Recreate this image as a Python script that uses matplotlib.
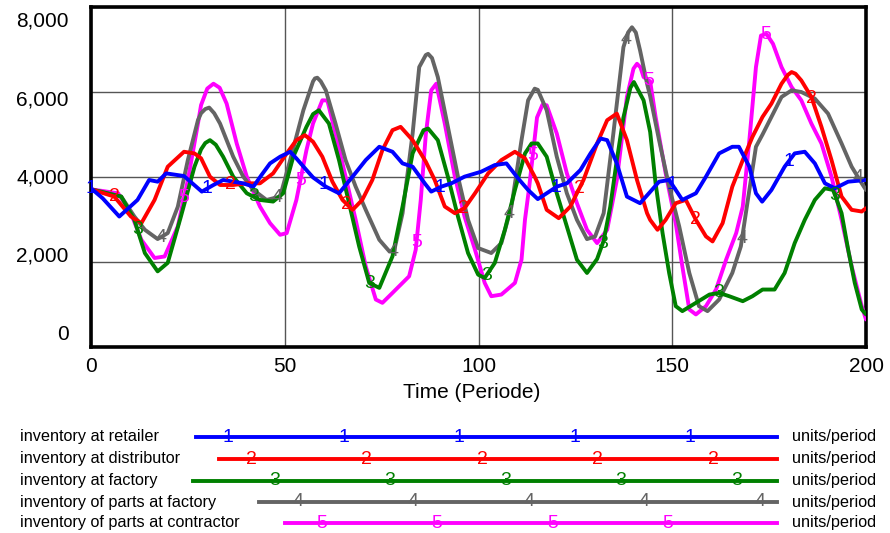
import numpy as np
import matplotlib
matplotlib.use("Agg")
import matplotlib.pyplot as plt
import matplotlib.transforms as mtransforms
from matplotlib.lines import Line2D

plt.rcParams['font.family'] = ['Liberation Sans', 'DejaVu Sans']

# ---- data ---------------------------------------------------------------
t_retailer = [0, 3, 7.3, 12, 15, 17.2, 19.4, 24, 28.6, 31.6, 34.1, 36.7, 39.3, 41.9, 44, 46.2,
              48.8, 51.4, 53, 55.6, 57.3, 60.6, 64, 67.5, 70.9, 74.4, 77.8, 80.4, 83, 86.3,
              87.8, 90.4, 93, 96.4, 100.7, 104.2, 107.2, 110.2, 112.8, 115.3, 117.6, 120.2,
              122.8, 126.3, 128.9, 131.5, 133.2, 135.7, 138.3, 141.7, 144.3, 146.6, 149.2,
              152.6, 156.1, 158.7, 162.1, 165.5, 167.2, 169.9, 171.6, 173.2, 175.6, 179,
              181.6, 184.2, 186.8, 189.4, 192, 195.4, 200]
v_retailer = [3734, 3500, 3070, 3460, 3930, 3890, 4085, 4023, 3656, 3812, 3930, 3890, 3851, 3773,
              4047, 4320, 4477, 4594, 4438, 4164, 3990, 3773, 3617, 4008, 4398, 4711, 4594,
              4320, 4242, 3830, 3656, 3773, 3851, 4008, 4125, 4281, 4320, 3969, 3695, 3480,
              3617, 3773, 3851, 4164, 4555, 4906, 4867, 4320, 3539, 3383, 3650, 3890, 3930,
              3461, 3617, 4008, 4555, 4711, 4711, 4242, 3617, 3420, 3695, 4242, 4555, 4594,
              4320, 3851, 3734, 3890, 3930]

t_distributor = [0, 6, 10.3, 13, 16.4, 19.8, 24, 26.7, 28.4, 30.7, 33.3, 36.7, 40.2, 43.6, 47,
                 50.5, 53, 55.2, 57.3, 59.7, 62.3, 64.9, 67.5, 70, 72.6, 75.2, 77.8, 79.9, 83,
                 86.4, 88.7, 91.3, 93.9, 96.4, 99.1, 102.5, 105.9, 109.4, 112, 114.5, 115.3,
                 117.6, 120.7, 123.7, 127.1, 130.6, 133.2, 135.7, 138.3, 140.9, 143.5, 144.3,
                 146.2, 148.3, 150.9, 153.5, 156.1, 158.7, 160.4, 163, 165.5, 168.2, 170.7,
                 173.3, 175.6, 178.2, 179.8, 180.8, 181.8, 183.3, 185.9, 188.5, 191.1, 193.7,
                 196.3, 198.9, 200]
v_distributor = [3710, 3540, 3070, 2914, 3460, 4242, 4594, 4555, 4440, 4008, 3812, 3812, 3851,
                 3851, 4086, 4555, 4867, 4984, 4830, 4477, 3890, 3461, 3227, 3461, 3930, 4633,
                 5102, 5180, 4867, 4360, 3930, 3305, 3148, 3266, 3617, 4086, 4398, 4594, 4438,
                 4008, 3851, 3227, 3031, 3305, 3930, 4789, 5336, 5492, 4867, 3930, 3148, 2990,
                 2758, 2992, 3383, 3461, 2992, 2602, 2484, 2914, 3773, 4398, 4945, 5414, 5727,
                 6195, 6400, 6469, 6430, 6273, 5883, 5180, 4398, 3539, 3227, 3188, 3266]

t_factory = [0, 7.8, 11.2, 13.9, 17.2, 19.8, 23.2, 26.7, 28.4, 29.5, 30.7, 32.2, 34.1, 36.7,
             40.2, 43.6, 47, 49.6, 52.2, 55.6, 57.3, 58.8, 61.4, 64, 66.6, 69.2, 71.8, 74.4,
             77.8, 80.4, 83, 85.8, 87, 89.5, 92.1, 94.7, 97.3, 99.9, 101.6, 104.2, 106.8,
             109.4, 112, 113.7, 115.3, 117.6, 120.2, 122.8, 125.4, 128, 130.6, 132.3, 134,
             135.7, 137.4, 139.2, 140.1, 142.6, 144.3, 145.7, 147.5, 149.2, 150.9, 152.6, 156.1,
             159.6, 162.1, 164.7, 168.2, 170.7, 173.3, 176.4, 179, 181.6, 184.2, 186.8, 189.4,
             191.5, 193.7, 195.4, 197.1, 198.9, 200]
v_factory = [3710, 3540, 2990, 2210, 1780, 1980, 3070, 4242, 4650, 4800, 4867, 4760, 4477, 4008,
             3617, 3460, 3422, 3617, 4477, 5180, 5480, 5570, 5258, 4398, 3383, 2367, 1508, 1391,
             2133, 3305, 4555, 5100, 5141, 4867, 4008, 3070, 2211, 1703, 1625, 1977, 2758, 3695,
             4555, 4789, 4789, 4477, 3617, 2836, 2055, 1742, 2070, 2500, 3300, 4400, 5400, 6100,
             6234, 5805, 5060, 3851, 2680, 1742, 961, 844, 1039, 1234, 1273, 1195, 1078, 1195,
             1352, 1352, 1742, 2445, 2992, 3461, 3734, 3695, 3148, 2289, 1508, 883, 766]

t_parts_factory = [0, 7.8, 11.2, 13.9, 17.2, 19.8, 22.4, 25, 27.6, 28.4, 29.5, 30.5, 31.8, 33.3,
                   36.7, 39.3, 41.9, 45.3, 48.8, 51.4, 54.8, 57.3, 57.8, 58.4, 59.3, 60.6, 63.1,
                   65.7, 68.3, 70.9, 74.4, 77, 78.2, 80.4, 83, 84.7, 86.4, 87, 88, 89.5, 92.1,
                   94.7, 97.3, 99.9, 103.3, 105.9, 108.5, 111.1, 112.8, 114.5, 115.3, 117.6,
                   120.2, 122.8, 125.4, 128, 130.1, 132.3, 134.8, 137.4, 138.6, 139.6, 140.6,
                   141.7, 143.5, 144.3, 146.6, 149.2, 151.8, 154.4, 156.9, 159.1, 162.1, 165.5,
                   167.7, 169.9, 171.6, 173.3, 175.6, 178.2, 180.8, 183.3, 186.8, 190.2, 193.7,
                   196.3, 198.9, 200]
v_parts_factory = [3710, 3540, 3070, 2758, 2540, 2680, 3300, 4400, 5336, 5500, 5600, 5633, 5500,
                   5258, 4477, 4008, 3695, 3460, 3540, 4400, 5570, 6250, 6320, 6336, 6250, 6039,
                   5258, 4398, 3773, 3227, 2523, 2250, 2250, 3148, 5023, 6586, 6870, 6898, 6800,
                   6352, 5180, 4008, 2992, 2328, 2211, 2445, 3305, 4867, 5805, 6078, 6050, 5570,
                   4477, 3617, 2992, 2539, 2602, 3148, 5023, 7055, 7400, 7523, 7400, 6977, 6195,
                   5900, 4867, 3773, 2836, 1742, 961, 844, 1117, 1742, 2367, 3695, 4711, 5000,
                   5414, 5883, 6039, 6000, 5844, 5492, 4789, 4242, 3851, 3695]

t_contractor = [0, 7, 10.3, 13, 16.4, 19, 22.4, 25, 27.6, 28.4, 30, 31.6, 33.2, 35, 37.6, 40.2,
                43.6, 46.2, 48.8, 50.5, 53, 55.6, 57.3, 59.7, 61, 63.1, 65.7, 68.3, 70.9, 73.5,
                75.2, 77.8, 82.1, 83.8, 85.1, 86.4, 87.8, 89.1, 91.3, 93.9, 96.4, 99.1, 101.6,
                103.3, 105.9, 109.4, 111.1, 112, 113, 114, 115.1, 116.5, 117.6, 120.2, 122.8,
                125.4, 128, 130.6, 133.2, 135.7, 138.3, 140, 140.9, 141.8, 142.6, 144.3, 145.7,
                148.3, 150.9, 152.6, 154.4, 156.1, 158.7, 161.3, 163.9, 166.5, 168.2, 169.9,
                171.6, 172.9, 174.3, 176, 178.2, 180.8, 183.3, 185.9, 188.5, 191.1, 193.7, 196.3,
                198.9, 200]
v_contractor = [3710, 3617, 3148, 2523, 2094, 2130, 2836, 3930, 5258, 5690, 6080, 6195, 6100,
                5727, 4789, 4008, 3305, 2914, 2640, 2680, 3460, 4633, 5260, 5805, 5800, 5023,
                4008, 2992, 1898, 1117, 1039, 1273, 1664, 2289, 3461, 5000, 6039, 6195, 5258,
                4008, 3070, 2289, 1508, 1195, 1234, 1508, 2055, 3000, 3700, 4500, 5400, 5700,
                5688, 5023, 4086, 3383, 2758, 2445, 2758, 3930, 5883, 6550, 6664, 6580, 6352,
                6250, 5414, 4086, 2914, 1898, 883, 766, 961, 1352, 2055, 2680, 3305, 4867, 6586,
                7328, 7367, 7133, 6586, 6117, 5805, 5258, 4789, 4008, 2992, 1898, 961, 648]

labels = ["inventory at retailer", "inventory at distributor", "inventory at factory",
          "inventory of parts at factory", "inventory of parts at contractor"]
colors = ["#0000ff", "#ff0000", "#008000", "#646464", "#ff00ff"]
units = "units/period"
x_ticks = [0, 50, 100, 150, 200]
y_ticks = [0, 2000, 4000, 6000, 8000]

series = [(t_retailer, v_retailer), (t_distributor, v_distributor), (t_factory, v_factory),
          (t_parts_factory, v_parts_factory), (t_contractor, v_contractor)]

W, H = 890, 533
fig = plt.figure(figsize=(W / 100, H / 100), dpi=100)
ax = fig.add_axes([91 / W, 1 - 347 / H, 775 / W, 340 / H])

# draw back to front so the retailer line sits on top
for i in reversed(range(5)):
    t, v = series[i]
    ax.plot(t, v, color=colors[i], lw=2.8, zorder=3 + (5 - i) * 0.1, solid_capstyle='round',
            solid_joinstyle='round')
    # Vensim style line numbers every 30 periods
    for tm in np.arange(6 * i, 201, 30):
        ax.text(tm, np.interp(tm, t, v), str(i + 1), color=colors[i], fontsize=14,
                ha='center', va='center', zorder=4)

ax.set_xlim(0, 200)
ax.set_ylim(0, 8000)
ax.set_xticks(x_ticks)
ax.set_xticklabels([str(x) for x in x_ticks], fontsize=15)
ax.set_yticks(y_ticks)
ax.set_yticklabels([])
ax.tick_params(length=0, pad=7)
ax.grid(True, color='#555555', lw=1.0)
ax.set_axisbelow(True)
for side in ['left', 'bottom', 'top', 'right']:
    ax.spines[side].set_linewidth(2.6)
    ax.spines[side].set_color('black')

# y labels sit a bit off the grid lines, like in Vensim
trans = mtransforms.blended_transform_factory(ax.transAxes, ax.transData)
for yt in y_ticks:
    ax.text(-0.029, 300 + 0.92 * yt, f"{yt:,}", transform=trans, ha='right', va='center',
            fontsize=15)

fig.text(472 / W, 1 - 392 / H, "Time (Periode)", ha='center', va='center', fontsize=15)

# legend block
row_y = [437, 459, 480.5, 502, 523]
line_x0 = [196, 219, 193, 259, 285]
line_x1 = 777
for i in range(5):
    yf = 1 - row_y[i] / H
    fig.text(20 / W, yf, labels[i], ha='left', va='center', fontsize=11.7)
    fig.add_artist(Line2D([line_x0[i] / W, line_x1 / W], [yf, yf], transform=fig.transFigure,
                          color=colors[i], lw=2.8))
    xn = 228 + 23.3 * i
    while xn < line_x1:
        fig.text(xn / W, yf, str(i + 1), color=colors[i], ha='center', va='center',
                 fontsize=14)
        xn += 115.5
    fig.text(876 / W, yf, units, ha='right', va='center', fontsize=11.7)

fig.savefig("out.png", dpi=100)
